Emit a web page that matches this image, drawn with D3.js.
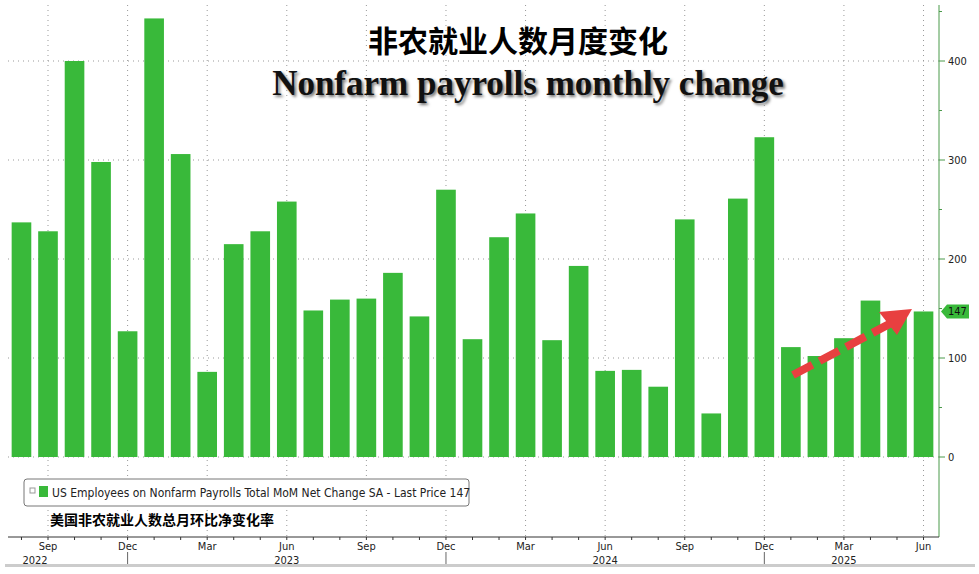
<!DOCTYPE html><html><head><meta charset="utf-8">
<script src="https://cdn.jsdelivr.net/npm/d3@7"></script>
<style>body{margin:0;background:#fff}svg{font-family:"Liberation Sans Narrow","DejaVu Sans Condensed",sans-serif}</style></head><body>
<svg id="c" width="979" height="574"></svg>
<script>
const months=["Aug","Sep","Oct","Nov","Dec","Jan","Feb","Mar","Apr","May","Jun","Jul","Aug","Sep","Oct","Nov","Dec","Jan","Feb","Mar","Apr","May","Jun","Jul","Aug","Sep","Oct","Nov","Dec","Jan","Feb","Mar","Apr","May","Jun"];
const years=[2022,2022,2022,2022,2022,2023,2023,2023,2023,2023,2023,2023,2023,2023,2023,2023,2023,2024,2024,2024,2024,2024,2024,2024,2024,2024,2024,2024,2024,2025,2025,2025,2025,2025,2025];
const values=[237,228,400,298,127,443,306,86,215,228,258,148,159,160,186,142,270,119,222,246,118,193,87,88,71,240,44,261,323,111,102,120,158,144,147];
const yTicks=[0,100,200,300,400];
const svg=d3.select("#c");
const ids=d3.range(values.length);
const x=d3.scaleBand().domain(ids).range([9,936]).paddingInner(0.26).paddingOuter(0.1);
const y=d3.scaleLinear().domain([0,400]).range([457,61]);
const green="#39b93a";
const g=svg.append("g");
yTicks.forEach(t=>g.append("line").attr("x1",8).attr("x2",939).attr("y1",y(t)).attr("y2",y(t)).attr("stroke","#999").attr("stroke-dasharray","1,4"));
const qi=ids.filter(i=>["Sep","Dec","Mar","Jun"].includes(months[i]));
qi.forEach(i=>g.append("line").attr("x1",x(i)+x.bandwidth()/2).attr("x2",x(i)+x.bandwidth()/2).attr("y1",5).attr("y2",537).attr("stroke","#999").attr("stroke-dasharray","1,4"));
svg.append("g").selectAll("rect").data(values).join("rect")
 .attr("x",(d,i)=>x(i)).attr("width",x.bandwidth()).attr("y",d=>y(d)).attr("height",d=>y(0)-y(d)).attr("fill",green);
const ra=svg.append("g").attr("transform","translate(939,0)");
ra.append("line").attr("y1",5).attr("y2",537).attr("stroke","#4a9a4a");
ra.call(g=>{yTicks.forEach(t=>{g.append("line").attr("x2",6).attr("y1",y(t)).attr("y2",y(t)).attr("stroke","#4a9a4a");
 g.append("text").attr("x",9).attr("y",y(t)+4).attr("font-size",11).attr("fill","#222").text(t);});
 [50,150,250,350,450].forEach(t=>g.append("line").attr("x2",3).attr("y1",y(t)).attr("y2",y(t)).attr("stroke","#4a9a4a"));});
const ly=y(147);
ra.append("path").attr("d",`M2,${ly} L8,${ly-7} L30,${ly-7} L30,${ly+7} L8,${ly+7} Z`).attr("fill",green);
ra.append("text").attr("x",9).attr("y",ly+4).attr("font-size",11).attr("fill","#111").text("147");
const b=svg.append("g");
b.append("line").attr("x1",8).attr("x2",939).attr("y1",537).attr("y2",537).attr("stroke","#333");
ids.forEach(i=>b.append("line").attr("x1",x(i)+x.bandwidth()/2).attr("x2",x(i)+x.bandwidth()/2).attr("y1",537).attr("y2",540).attr("stroke","#333"));
qi.forEach(i=>b.append("text").attr("x",x(i)+x.bandwidth()/2).attr("y",550).attr("text-anchor","middle").attr("font-size",11).attr("fill","#222").text(months[i]));
ids.filter(i=>months[i]==="Dec").forEach(i=>b.append("line").attr("x1",x(i)+x.bandwidth()/2).attr("x2",x(i)+x.bandwidth()/2).attr("y1",552).attr("y2",566).attr("stroke","#666"));
const yrPos={2022:x(1)+x.bandwidth()/2-13,2023:x(10)+x.bandwidth()/2,2024:x(22)+x.bandwidth()/2,2025:x(31)+x.bandwidth()/2};
Object.keys(yrPos).forEach(k=>b.append("text").attr("x",yrPos[k]).attr("y",564).attr("text-anchor","middle").attr("font-size",11).attr("fill","#222").text(k));
b.append("rect").attr("x",5).attr("y",564).attr("width",970).attr("height",3).attr("fill","#ccc");
svg.append("rect").attr("x",24).attr("y",479).attr("width",445).attr("height",27).attr("rx",3).attr("fill","#fff").attr("stroke","#777");
svg.append("rect").attr("x",30).attr("y",488).attr("width",5).attr("height",5).attr("fill","none").attr("stroke","#999");
svg.append("rect").attr("x",39).attr("y",486).attr("width",9).attr("height",11).attr("fill",green);
svg.append("text").attr("x",52).attr("y",497).attr("font-size",12).attr("fill","#222").text("US Employees on Nonfarm Payrolls Total MoM Net Change SA - Last Price 147");
svg.append("text").attr("x",50).attr("y",525).attr("font-size",14).attr("font-weight","bold").attr("font-family","Noto Sans CJK SC").attr("fill","#000").text("美国非农就业人数总月环比净变化率");
svg.append("text").attr("x",518).attr("y",52).attr("text-anchor","middle").attr("font-size",30).attr("font-weight","bold").attr("font-family","Noto Sans CJK SC").attr("fill","#000").text("非农就业人数月度变化");
svg.append("text").attr("x",528).attr("y",95).attr("text-anchor","middle").attr("font-size",35).attr("font-weight","bold").attr("font-family","Liberation Serif").attr("fill","#111").attr("style","text-shadow:2px 2px 3px #777").text("Nonfarm payrolls monthly change");
svg.append("line").attr("x1",793).attr("y1",375).attr("x2",895).attr("y2",321).attr("stroke","#e84040").attr("stroke-width",8).attr("stroke-dasharray","22,8");
svg.append("path").attr("d","M912,309 L879,312 L897,335 Z").attr("fill","#e84040");
</script></body></html>
